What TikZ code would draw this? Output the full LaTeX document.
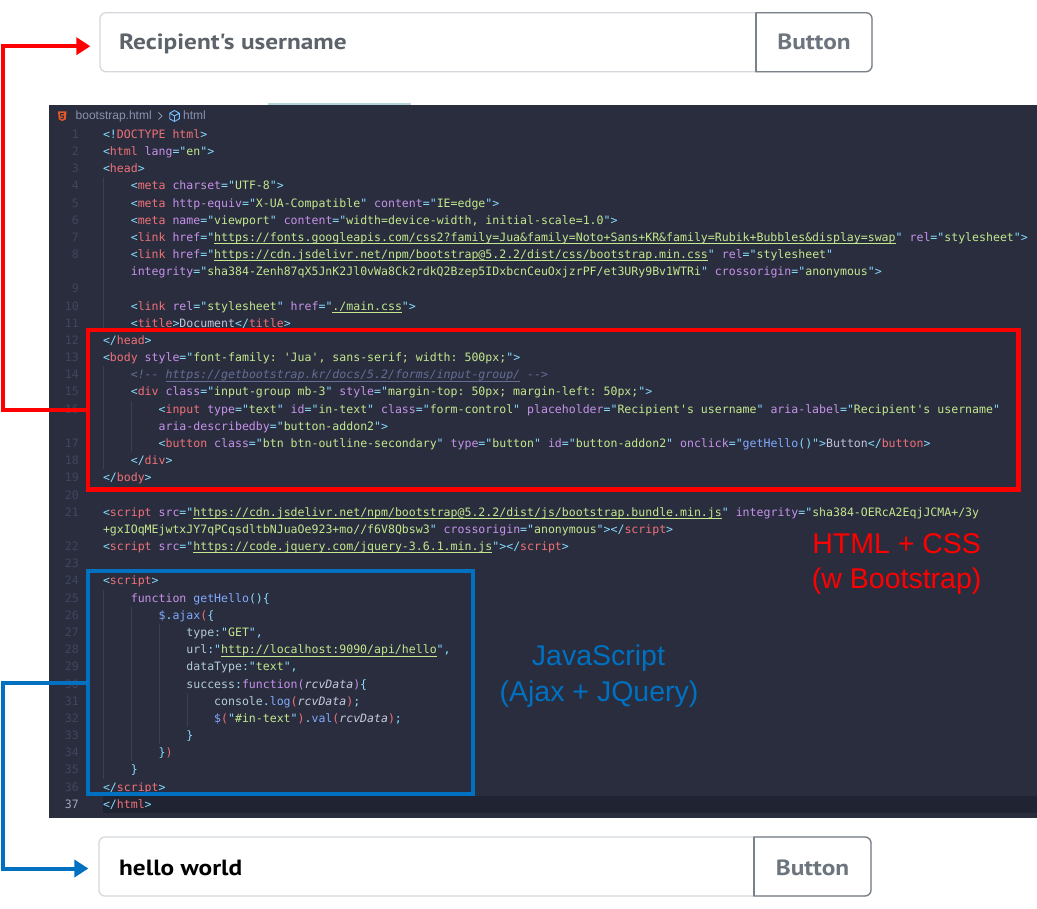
\documentclass[tikz,border=0pt]{standalone}
\usepackage{fontspec}
\setmonofont{DejaVu Sans Mono}
\newfontfamily\labfont{Liberation Sans}
\newfontfamily\uifont[FakeStretch=1.15]{PT Sans}
\usetikzlibrary{arrows.meta}
\definecolor{cbg}{HTML}{292D3E}
\definecolor{chl}{HTML}{202331}
\definecolor{cpun}{HTML}{89DDFF}
\definecolor{ctag}{HTML}{F07178}
\definecolor{cattr}{HTML}{C792EA}
\definecolor{cstr}{HTML}{C3E88D}
\definecolor{ctxt}{HTML}{C0C4DC}
\definecolor{cfun}{HTML}{82AAFF}
\definecolor{ckey}{HTML}{C792EA}
\definecolor{cvar}{HTML}{C8CCE0}
\definecolor{cprop}{HTML}{B2CCD6}
\definecolor{cbrk}{HTML}{F07178}
\definecolor{ccom}{HTML}{676E95}
\definecolor{cnum}{HTML}{41465F}
\definecolor{cnumact}{HTML}{A0A5BE}
\definecolor{cguide}{HTML}{3B3F55}
\definecolor{chead}{HTML}{8C91B0}
\definecolor{cblue}{HTML}{0070C0}
\definecolor{cborder}{HTML}{D5D9DE}
\definecolor{cbtnline}{HTML}{7A8189}
\definecolor{cph}{HTML}{5C636A}
\definecolor{cbtn}{HTML}{6C757D}
\definecolor{ctab}{HTML}{B5D3D6}
\definecolor{chtml}{HTML}{E4582A}
\definecolor{ccube}{HTML}{75BEFF}
\newcommand\zp[1]{\textcolor{cpun}{#1}}
\newcommand\zt[1]{\textcolor{ctag}{#1}}
\newcommand\za[1]{\textcolor{cattr}{#1}}
\newcommand\zs[1]{\textcolor{cstr}{#1}}
\newcommand\zuline[1]{\setbox0=\hbox{#1}\rlap{\rule[-2.6pt]{\wd0}{0.75pt}}\box0}
\newcommand\zu[1]{{\color{cstr}\zuline{#1}}}
\newcommand\zx[1]{\textcolor{ctxt}{#1}}
\newcommand\zf[1]{\textcolor{cfun}{#1}}
\newcommand\zk[1]{\textcolor{ckey}{#1}}
\newcommand\zv[1]{{\itshape\color{cvar}#1}}
\newcommand\zl[1]{\textcolor{cprop}{#1}}
\newcommand\zr[1]{\textcolor{cbrk}{#1}}
\newcommand\zc[1]{{\itshape\color{ccom}#1}}
\newcommand\codeline[3]{\node[codetext] (code#1) at ({103+27.8*#2},{138.3+17.18*#1}) {#3};}
\newcommand\lnum[2]{\node[lnumtext] (num#2) at (79,{138.3+17.18*#1}) {#2};}
\newcommand\guide[3]{\draw[guideline] (#1,{125.7+17.18*#2}) -- (#1,{142.9+17.18*#3});}
\begin{document}
\begin{tikzpicture}[x=1pt,y={(0pt,-1pt)},
  codetext/.style={anchor=base west,inner sep=0pt,outer sep=0pt,font=\fontsize{11.55}{13}\selectfont\ttfamily},
  lnumtext/.style={anchor=base east,inner sep=0pt,text=cnum,font=\fontsize{11.55}{13}\selectfont\ttfamily},
  guideline/.style={draw=cguide,line width=0.8pt},
  inputbox/.style={draw=cborder,line width=1.3pt,rounded corners=6pt,fill=white,minimum width=772pt,minimum height=59pt,inner sep=0pt},
  btnline/.style={draw=cbtnline,line width=1.3pt},
  uitext/.style={inner sep=0pt,font=\uifont\bfseries\fontsize{22}{24}\selectfont},
  lab/.style={anchor=base,inner sep=0pt,font=\labfont\fontsize{28.5}{30}\selectfont},
  headtext/.style={anchor=base west,inner sep=0pt,text=chead,font=\labfont\fontsize{12}{14}\selectfont},
  boxred/.style={draw=red,line width=4.5pt,minimum width=930.5pt,minimum height=159.5pt,inner sep=0pt},
  boxblue/.style={draw=cblue,line width=4.5pt,minimum width=385pt,minimum height=223pt,inner sep=0pt},
  redarrow/.style={draw=red,line width=4pt,-{Triangle[length=14pt,width=17pt]},shorten >=9pt},
  bluearrow/.style={draw=cblue,line width=4pt,-{Triangle[length=14pt,width=17pt]},shorten >=10pt}]
\useasboundingbox (0,0) rectangle (1037,909);
\fill[white] (0,0) rectangle (1037,909);
% code panel
\fill[cbg] (49,105) rectangle (1037,818);
\fill[ctab] (268,103) rectangle (411,105.5);
\fill[chl] (103,795.7) rectangle (1037,812.9);
% header
\fill[chtml] (58,111.5) -- (66.5,111.5) -- (65.7,119.5) -- (62.25,121) -- (58.8,119.5) -- cycle;
\draw[cbg,line width=0.9pt] (63.8,113.6) -- (60.6,113.6) -- (60.8,116.2) -- (63.4,116.2) -- (63.2,118.4) -- (60.4,118.8);
\node[headtext] (fname) at (75.5,120) {bootstrap.html};
\draw[chead,line width=0.8pt] (158.5,112.5) -- (162,116) -- (158.5,119.5);
\draw[ccube,line width=0.9pt,line join=round]
  (174.5,110.5) -- (179.3,113.2) -- (179.3,118.8) -- (174.5,121.5) -- (169.7,118.8) -- (169.7,113.2) -- cycle
  (169.7,113.2) -- (174.5,116) -- (179.3,113.2) (174.5,116) -- (174.5,121.5);
\node[headtext] (crumb) at (183,120) {html};
% indent guides
\guide{103.5}{3}{11}
\guide{103.5}{14}{19}
\guide{131.3}{16}{18}
\guide{103.5}{27}{37}
\guide{131.3}{28}{36}
\guide{159.1}{29}{35}
\guide{186.9}{33}{34}
% line numbers
\lnum{0}{1}\lnum{1}{2}\lnum{2}{3}\lnum{3}{4}\lnum{4}{5}\lnum{5}{6}\lnum{6}{7}\lnum{7}{8}
\lnum{9}{9}\lnum{10}{10}\lnum{11}{11}\lnum{12}{12}\lnum{13}{13}\lnum{14}{14}\lnum{15}{15}\lnum{16}{16}
\lnum{18}{17}\lnum{19}{18}\lnum{20}{19}\lnum{21}{20}\lnum{22}{21}\lnum{24}{22}\lnum{25}{23}
\lnum{26}{24}\lnum{27}{25}\lnum{28}{26}\lnum{29}{27}\lnum{30}{28}\lnum{31}{29}\lnum{32}{30}
\lnum{33}{31}\lnum{34}{32}\lnum{35}{33}\lnum{36}{34}\lnum{37}{35}\lnum{38}{36}
\node[lnumtext,text=cnumact] (num37) at (79,{138.3+17.18*39}) {37};
% code
\codeline{0}{0}{\zp{<!}\zt{DOCTYPE} \zt{html}\zp{>}}
\codeline{1}{0}{\zp{<}\zt{html} \za{lang}\zp{="}\zs{en}\zp{">}}
\codeline{2}{0}{\zp{<}\zt{head}\zp{>}}
\codeline{3}{1}{\zp{<}\zt{meta} \za{charset}\zp{="}\zs{UTF-8}\zp{">}}
\codeline{4}{1}{\zp{<}\zt{meta} \za{http-equiv}\zp{="}\zs{X-UA-Compatible}\zp{"} \za{content}\zp{="}\zs{IE=edge}\zp{">}}
\codeline{5}{1}{\zp{<}\zt{meta} \za{name}\zp{="}\zs{viewport}\zp{"} \za{content}\zp{="}\zs{width=device-width, initial-scale=1.0}\zp{">}}
\codeline{6}{1}{\zp{<}\zt{link} \za{href}\zp{="}\zu{https://fonts.googleapis.com/css2?family=Jua\&family=Noto+Sans+KR\&family=Rubik+Bubbles\&display=swap}\zp{"} \za{rel}\zp{="}\zs{stylesheet}\zp{">}}
\codeline{7}{1}{\zp{<}\zt{link} \za{href}\zp{="}\zu{https://cdn.jsdelivr.net/npm/bootstrap@5.2.2/dist/css/bootstrap.min.css}\zp{"} \za{rel}\zp{="}\zs{stylesheet}\zp{"}}
\codeline{8}{1}{\za{integrity}\zp{="}\zs{sha384-Zenh87qX5JnK2Jl0vWa8Ck2rdkQ2Bzep5IDxbcnCeuOxjzrPF/et3URy9Bv1WTRi}\zp{"} \za{crossorigin}\zp{="}\zs{anonymous}\zp{">}}
\codeline{10}{1}{\zp{<}\zt{link} \za{rel}\zp{="}\zs{stylesheet}\zp{"} \za{href}\zp{="}\zu{./main.css}\zp{">}}
\codeline{11}{1}{\zp{<}\zt{title}\zp{>}\zx{Document}\zp{</}\zt{title}\zp{>}}
\codeline{12}{0}{\zp{</}\zt{head}\zp{>}}
\codeline{13}{0}{\zp{<}\zt{body} \za{style}\zp{="}\zs{font-family: 'Jua', sans-serif; width: 500px;}\zp{">}}
\codeline{14}{1}{\zc{<!--\ \zuline{https://getbootstrap.kr/docs/5.2/forms/input-group/}\ -->}}
\codeline{15}{1}{\zp{<}\zt{div} \za{class}\zp{="}\zs{input-group mb-3}\zp{"} \za{style}\zp{="}\zs{margin-top: 50px; margin-left: 50px;}\zp{">}}
\codeline{16}{2}{\zp{<}\zt{input} \za{type}\zp{="}\zs{text}\zp{"} \za{id}\zp{="}\zs{in-text}\zp{"} \za{class}\zp{="}\zs{form-control}\zp{"} \za{placeholder}\zp{="}\zs{Recipient's username}\zp{"} \za{aria-label}\zp{="}\zs{Recipient's username}\zp{"}}
\codeline{17}{2}{\za{aria-describedby}\zp{="}\zs{button-addon2}\zp{">}}
\codeline{18}{2}{\zp{<}\zt{button} \za{class}\zp{="}\zs{btn btn-outline-secondary}\zp{"} \za{type}\zp{="}\zs{button}\zp{"} \za{id}\zp{="}\zs{button-addon2}\zp{"} \za{onclick}\zp{="}\zf{getHello}\zp{()">}\zx{Button}\zp{</}\zt{button}\zp{>}}
\codeline{19}{1}{\zp{</}\zt{div}\zp{>}}
\codeline{20}{0}{\zp{</}\zt{body}\zp{>}}
\codeline{22}{0}{\zp{<}\zt{script} \za{src}\zp{="}\zu{https://cdn.jsdelivr.net/npm/bootstrap@5.2.2/dist/js/bootstrap.bundle.min.js}\zp{"} \za{integrity}\zp{="}\zs{sha384-OERcA2EqjJCMA+/3y}}
\codeline{23}{0}{\zs{+gxIOqMEjwtxJY7qPCqsdltbNJuaOe923+mo//f6V8Qbsw3}\zp{"} \za{crossorigin}\zp{="}\zs{anonymous}\zp{"></}\zt{script}\zp{>}}
\codeline{24}{0}{\zp{<}\zt{script} \za{src}\zp{="}\zu{https://code.jquery.com/jquery-3.6.1.min.js}\zp{"></}\zt{script}\zp{>}}
\codeline{26}{0}{\zp{<}\zt{script}\zp{>}}
\codeline{27}{1}{\zk{function} \zf{getHello}\zp{()\{}}
\codeline{28}{2}{\zf{\$}\zp{.}\zf{ajax}\zr{(}\zp{\{}}
\codeline{29}{3}{\zl{type}\zp{:"}\zs{GET}\zp{",}}
\codeline{30}{3}{\zl{url}\zp{:"}\zu{http://localhost:9090/api/hello}\zp{",}}
\codeline{31}{3}{\zl{dataType}\zp{:"}\zs{text}\zp{",}}
\codeline{32}{3}{\zl{success}\zp{:}\zk{function(}\zv{rcvData}\zk{)}\zp{\{}}
\codeline{33}{4}{\zl{console}\zp{.}\zf{log}\zr{(}\zv{rcvData}\zr{)}\zp{;}}
\codeline{34}{4}{\zf{\$}\zr{(}\zp{"}\zs{\#in-text}\zp{"}\zr{)}\zp{.}\zf{val}\zr{(}\zv{rcvData}\zr{)}\zp{;}}
\codeline{35}{3}{\zp{\}}}
\codeline{36}{2}{\zp{\}}\zr{)}}
\codeline{37}{1}{\zp{\}}}
\codeline{38}{0}{\zp{</}\zt{script}\zp{>}}
\codeline{39}{0}{\zp{</}\zt{html}\zp{>}}
% highlight boxes
\node[boxred] (htmlbox) at (553.25,409.75) {};
\node[boxblue] (jsbox) at (280.5,682.5) {};
\node[lab,text=red] (htmlA) at (896.7,553.3) {HTML + CSS};
\node[lab,text=red] (htmlB) at (896.7,588) {(w Bootstrap)};
\node[lab,text=cblue] (jsA) at (598.5,665.7) {JavaScript};
\node[lab,text=cblue] (jsB) at (599,701.7) {(Ajax + JQuery)};
% input groups
\node[inputbox] (input1) at (486,42.2) {};
\begin{scope}
\clip (755.4,0) rectangle (890,90);
\draw[btnline,rounded corners=6pt] (740,12.7) rectangle (872,71.7);
\end{scope}
\draw[btnline] (756,12.7) -- (756,71.7);
\node[uitext,anchor=base west,text=cph] (ph1) at (119,50) {Recipient{\char"27}s username};
\node[uitext,anchor=base,text=cbtn] (btn1) at (814,50) {Button};
\node[inputbox] (input2) at (485,866.5) {};
\begin{scope}
\clip (753.4,820) rectangle (890,909);
\draw[btnline,rounded corners=6pt] (738,837) rectangle (871,896);
\end{scope}
\draw[btnline] (754,837) -- (754,896);
\node[uitext,anchor=base west,text=black] (hw) at (119,875) {hello world};
\node[uitext,anchor=base,text=cbtn] (btn2) at (812.5,875) {Button};
% connectors
\draw[redarrow] (htmlbox.west) -- ++(-82.5,0) |- ([yshift=-4pt]input1.west);
\draw[bluearrow] (jsbox.west) -- ++(-82.5,0) |- ([yshift=-2pt]input2.west);
\end{tikzpicture}
\end{document}
